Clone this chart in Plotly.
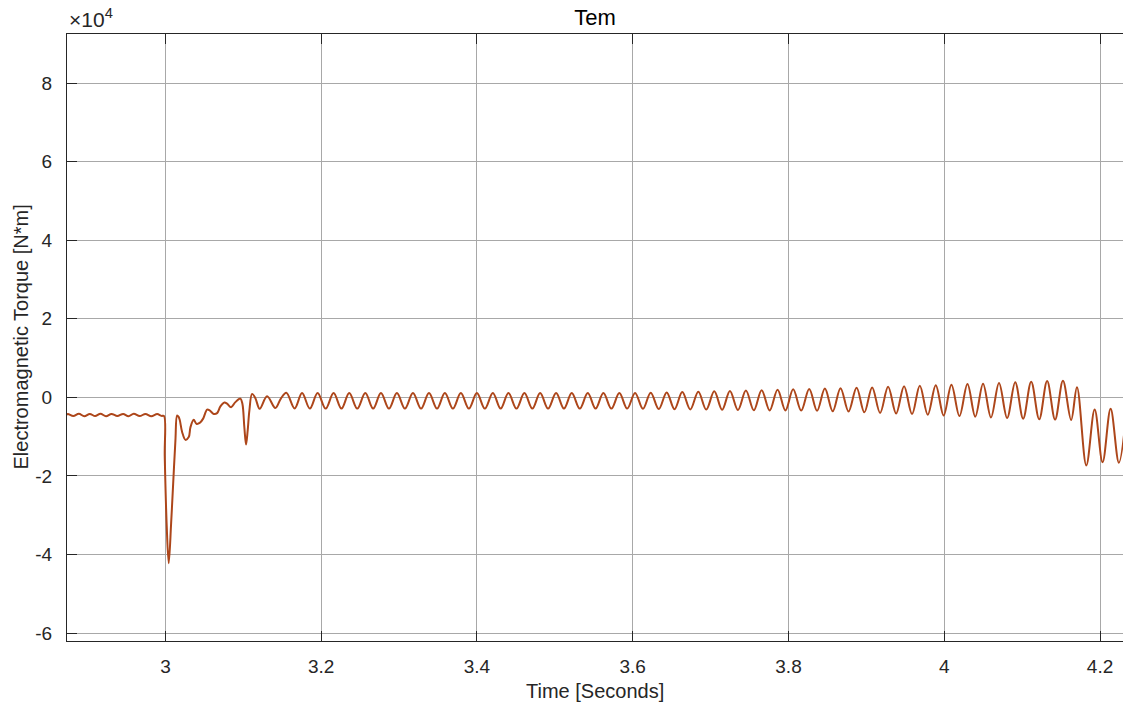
import plotly.graph_objects as go

# ---- Electromagnetic torque trace (time in s, torque in N*m) ----

# steady state before the disturbance (small ripple)
pre_t = [2.8730, 2.8747, 2.8817, 2.8888, 2.8958, 2.9029, 2.9097, 2.9166, 2.9237,
         2.9307, 2.9382, 2.9457, 2.9525, 2.9593, 2.9669, 2.9743, 2.9818, 2.9894,
         2.9949, 2.9981]
pre_v = [-4400, -4200, -4750, -4150, -4800, -4200, -4750, -4150, -4800,
         -4200, -4750, -4200, -4800, -4150, -4750, -4200, -4800, -4250,
         -4700, -4700]

# disturbance at t = 3 s and the recovery up to ~3.15 s
fault_t = [2.9991, 3.0015, 3.0042, 3.0073, 3.0099, 3.0128, 3.0150, 3.0167, 3.0183,
           3.0214, 3.0257, 3.0299, 3.0321, 3.0363, 3.0398, 3.0440, 3.0484, 3.0535,
           3.0568, 3.0620, 3.0663, 3.0706, 3.0757, 3.0792, 3.0843, 3.0898, 3.0962,
           3.0988, 3.1013, 3.1035, 3.1056, 3.1078, 3.1112, 3.1155, 3.1210, 3.1305,
           3.1411, 3.1482]
fault_v = [-15000, -32000, -42200, -32000, -22000, -11000, -4600, -4900, -5700,
           -8800, -10800, -10100, -7600, -5700, -6700, -6500, -5400, -3100,
           -3300, -4200, -4000, -2300, -1300, -1600, -2500, -1200, -300,
           -1600, -7600, -12000, -8400, -3300, 900, -200, -2900, 300,
           -2700, -300]

# sustained oscillation: local maxima
peak_t = [3.1552, 3.1754, 3.1954, 3.2159, 3.2360, 3.2566, 3.2767, 3.2972, 3.3178,
          3.3384, 3.3588, 3.3793, 3.3999, 3.4204, 3.4404, 3.4609, 3.4811, 3.5016,
          3.5217, 3.5423, 3.5623, 3.5828, 3.6030, 3.6231, 3.6436, 3.6636, 3.6842,
          3.7047, 3.7248, 3.7453, 3.7655, 3.7860, 3.8060, 3.8266, 3.8467, 3.8668,
          3.8874, 3.9074, 3.9279, 3.9484, 3.9686, 3.9891, 4.0092, 4.0298, 4.0498,
          4.0703, 4.0911, 4.1116, 4.1321, 4.1524]
peak_v = [1200, 1100, 1100, 1100, 1100, 1100, 1100, 1100, 1100,
          1100, 1100, 1100, 1100, 1100, 1100, 1100, 1100, 1100,
          1100, 1100, 1100, 1100, 1150, 1200, 1250, 1350, 1450,
          1550, 1650, 1750, 1850, 1950, 2050, 2150, 2250, 2350,
          2450, 2550, 2700, 2850, 3000, 3100, 3250, 3400, 3500,
          3700, 3850, 4000, 4150, 4250]

# sustained oscillation: local minima
trough_t = [3.1659, 3.1854, 3.2057, 3.2260, 3.2463, 3.2667, 3.2870, 3.3075, 3.3282,
            3.3487, 3.3691, 3.3896, 3.4101, 3.4304, 3.4507, 3.4711, 3.4913, 3.5117,
            3.5320, 3.5523, 3.5726, 3.5929, 3.6131, 3.6334, 3.6536, 3.6739, 3.6944,
            3.7148, 3.7351, 3.7555, 3.7758, 3.7960, 3.8163, 3.8367, 3.8568, 3.8771,
            3.8974, 3.9176, 3.9382, 3.9586, 3.9788, 3.9992, 4.0195, 4.0398, 4.0600,
            4.0807, 4.1013, 4.1219, 4.1423, 4.1629]
trough_v = [-2800, -2850, -2850, -2850, -2850, -2850, -2850, -2850, -2850,
            -2850, -2850, -2850, -2850, -2850, -2850, -2850, -2850, -2850,
            -2850, -2850, -2850, -2850, -2900, -2950, -3000, -3050, -3100,
            -3150, -3200, -3250, -3300, -3300, -3350, -3400, -3500, -3600,
            -3800, -3950, -4100, -4250, -4400, -4600, -4750, -4900, -5100,
            -5250, -5400, -5550, -5650, -5750]

# second event near 4.17 s
post_t = [4.1704, 4.1824, 4.1931, 4.2033, 4.2136, 4.2242, 4.2341]
post_v = [2600, -17300, -3100, -16500, -2900, -16600, -3000]

# merge maxima and minima of the oscillation in time order
osc = sorted(zip(peak_t + trough_t, peak_v + trough_v))
t = pre_t + fault_t + [p[0] for p in osc] + post_t
torque = pre_v + fault_v + [p[1] for p in osc] + post_v

x_ticks = [3, 3.2, 3.4, 3.6, 3.8, 4, 4.2]
x_labels = ["3", "3.2", "3.4", "3.6", "3.8", "4", "4.2"]
y_ticks = [-60000, -40000, -20000, 0, 20000, 40000, 60000, 80000]
y_labels = ["-6", "-4", "-2", "0", "2", "4", "6", "8"]

FONT = "Liberation Sans, Arial, sans-serif"
AX = "#262626"
GRID = "#a8a8a8"

fig = go.Figure()
fig.add_trace(go.Scatter(
    x=t, y=torque, mode="lines",
    line=dict(color="#AD461A", width=2, shape="spline", smoothing=1.0),
    hoverinfo="x+y", showlegend=False,
))

fig.update_layout(
    width=1123, height=708,
    margin=dict(l=67, r=0, t=34, b=67),
    paper_bgcolor="white", plot_bgcolor="white",
    font=dict(family=FONT, size=19, color=AX),
    title=dict(text="Tem", x=0.5, xref="paper", y=1 - 17 / 708, yref="container",
               xanchor="center", yanchor="middle",
               font=dict(family=FONT, size=22, color="black")),
    xaxis=dict(
        range=[2.8736, 4.2295], tickvals=x_ticks, ticktext=x_labels,
        tickfont=dict(size=19, color=AX),
        showgrid=True, gridcolor=GRID, gridwidth=1, zeroline=False,
        showline=True, linecolor=AX, linewidth=1, mirror="ticks",
        ticks="inside", ticklen=10, tickcolor=AX, tickwidth=1,
        ticklabelstandoff=8,
    ),
    yaxis=dict(
        range=[-62000, 92500], tickvals=y_ticks, ticktext=y_labels,
        tickfont=dict(size=19, color=AX),
        showgrid=True, gridcolor=GRID, gridwidth=1, zeroline=False,
        showline=True, linecolor=AX, linewidth=1, mirror=False,
        ticks="inside", ticklen=10, tickcolor=AX, tickwidth=1,
        ticklabelstandoff=10,
    ),
    annotations=[
        dict(text="Time [Seconds]", xref="paper", yref="paper", x=0.5, y=-0.0824,
             xanchor="center", yanchor="middle", showarrow=False,
             font=dict(family=FONT, size=20, color=AX)),
        dict(text="Electromagnetic Torque [N*m]", xref="paper", yref="paper",
             x=-0.0445, y=0.5, xanchor="center", yanchor="middle", textangle=-90,
             showarrow=False, font=dict(family=FONT, size=20, color=AX)),
        dict(text="\u00d710<sup>4</sup>", xref="paper", yref="paper", x=0, y=1.002,
             xanchor="left", yanchor="bottom", showarrow=False,
             font=dict(family=FONT, size=21, color=AX)),
    ],
)

fig.write_html("out.html")
